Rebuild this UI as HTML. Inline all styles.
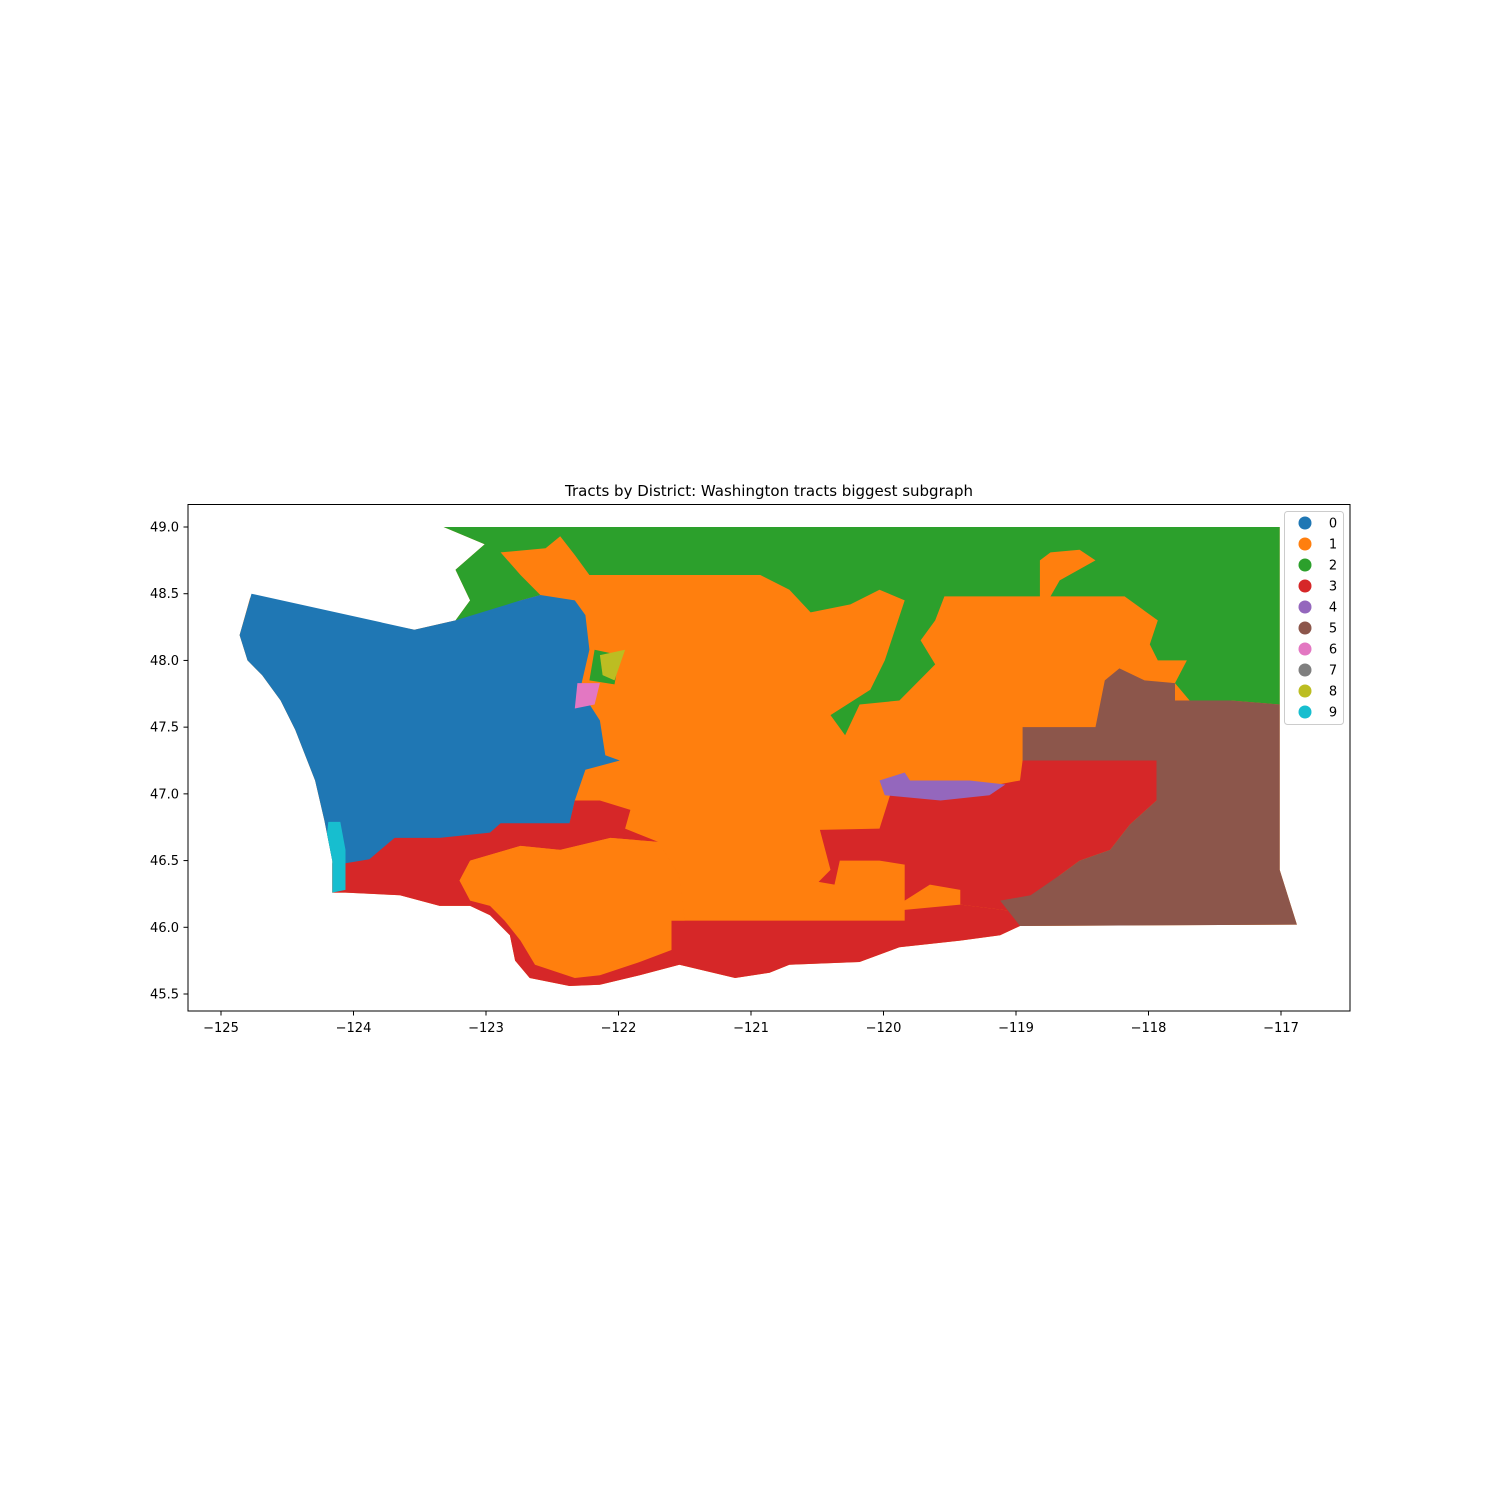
<!DOCTYPE html>
<html><head><meta charset="utf-8"><style>
html,body{margin:0;padding:0;background:#fff;}
svg{display:block;font-family:"DejaVu Sans","Liberation Sans",sans-serif;}
</style></head><body>
<svg id="chart" width="1500" height="1500" viewBox="0 0 1500 1500">
<rect x="0" y="0" width="1500" height="1500" fill="#fff"/>
<text x="769" y="496" text-anchor="middle" font-size="15" fill="#000">Tracts by District: Washington tracts biggest subgraph</text>
<g id="regions"></g>
<rect x="188" y="504.5" width="1162" height="506.5" fill="none" stroke="#000" stroke-width="1"/>
<g id="axes"></g>
<g id="legend"></g>
</svg>
<script>
const xTicks=[-125,-124,-123,-122,-121,-120,-119,-118,-117];
const yTicks=[45.5,46.0,46.5,47.0,47.5,48.0,48.5,49.0];
const legendLabels=["0","1","2","3","4","5","6","7","8","9"];
const colors=["#1f77b4","#ff7f0e","#2ca02c","#d62728","#9467bd","#8c564b","#e377c2","#7f7f7f","#bcbd22","#17becf"];
const stateOutline=[[-123.32,49.00],[-117.01,49.00],[-117.01,46.43],[-116.88,46.02],[-118.97,46.01],[-119.12,45.94],[-119.42,45.90],[-119.88,45.85],[-120.18,45.74],[-120.71,45.72],[-120.86,45.66],[-121.12,45.62],[-121.54,45.72],[-121.84,45.64],[-122.14,45.57],[-122.37,45.56],[-122.67,45.62],[-122.78,45.75],[-122.82,45.94],[-122.97,46.09],[-123.12,46.16],[-123.35,46.16],[-123.65,46.24],[-124.06,46.26],[-124.16,46.26],[-124.16,46.50],[-124.22,46.80],[-124.29,47.10],[-124.44,47.48],[-124.55,47.70],[-124.69,47.89],[-124.80,48.00],[-124.86,48.19],[-124.78,48.47],[-123.54,48.23],[-123.23,48.30],[-123.12,48.45],[-123.23,48.68],[-123.01,48.87]];
const district2=[[-123.32,49.00],[-117.01,49.00],[-117.01,47.67],[-117.38,47.70],[-117.80,47.70],[-117.80,47.43],[-117.69,47.48],[-117.69,47.70],[-117.80,47.83],[-117.71,48.00],[-117.93,48.00],[-117.99,48.12],[-117.93,48.30],[-118.18,48.48],[-118.74,48.48],[-118.67,48.60],[-118.40,48.75],[-118.52,48.83],[-118.74,48.81],[-118.82,48.75],[-118.82,48.48],[-119.54,48.48],[-119.61,48.30],[-119.72,48.15],[-119.61,47.97],[-119.88,47.70],[-120.18,47.67],[-120.29,47.44],[-120.40,47.59],[-120.10,47.78],[-119.99,48.00],[-119.84,48.45],[-120.03,48.53],[-120.25,48.42],[-120.55,48.36],[-120.71,48.53],[-120.93,48.64],[-122.22,48.64],[-122.33,48.79],[-122.44,48.93],[-122.55,48.84],[-122.89,48.81],[-122.74,48.64],[-122.59,48.49],[-122.74,48.45],[-123.12,48.30],[-123.23,48.30],[-123.12,48.45],[-123.23,48.68],[-123.01,48.87]];
const district2b=[[-122.18,48.08],[-121.99,48.04],[-122.03,47.82],[-122.22,47.85]];
const district0=[[-124.77,48.50],[-123.54,48.23],[-123.23,48.30],[-122.74,48.45],[-122.59,48.49],[-122.33,48.45],[-122.25,48.34],[-122.22,48.08],[-122.29,47.78],[-122.14,47.55],[-122.10,47.29],[-121.99,47.25],[-122.25,47.18],[-122.33,46.95],[-122.37,46.77],[-122.89,46.76],[-122.97,46.69],[-123.35,46.65],[-123.69,46.65],[-123.88,46.50],[-124.06,46.47],[-124.16,46.50],[-124.22,46.80],[-124.29,47.10],[-124.44,47.48],[-124.55,47.70],[-124.69,47.89],[-124.80,48.00],[-124.86,48.19]];
const district3a=[[-124.16,46.48],[-124.06,46.48],[-123.88,46.51],[-123.69,46.67],[-123.35,46.67],[-122.97,46.71],[-122.89,46.78],[-122.37,46.78],[-122.33,46.95],[-122.14,46.95],[-121.91,46.88],[-121.95,46.74],[-121.70,46.64],[-122.06,46.67],[-122.44,46.58],[-122.74,46.61],[-123.12,46.50],[-123.20,46.35],[-121.60,46.05],[-119.84,46.05],[-119.84,46.13],[-119.42,46.17],[-118.93,46.11],[-118.97,46.01],[-119.12,45.94],[-119.42,45.90],[-119.88,45.85],[-120.18,45.74],[-120.71,45.72],[-120.86,45.66],[-121.12,45.62],[-121.54,45.72],[-121.84,45.64],[-122.14,45.57],[-122.37,45.56],[-122.67,45.62],[-122.78,45.75],[-122.82,45.94],[-122.97,46.09],[-123.12,46.16],[-123.35,46.16],[-123.65,46.24],[-124.06,46.26],[-124.16,46.26]];
const district1sw=[[-123.20,46.35],[-123.12,46.50],[-122.74,46.61],[-122.44,46.58],[-122.06,46.67],[-121.70,46.64],[-121.54,46.39],[-121.50,46.05],[-121.60,46.05],[-121.60,45.83],[-121.84,45.74],[-122.14,45.64],[-122.33,45.62],[-122.63,45.72],[-122.74,45.90],[-122.86,46.05],[-122.97,46.16],[-123.12,46.20]];
const district3b=[[-120.48,46.73],[-120.03,46.74],[-119.95,46.99],[-119.57,46.99],[-118.97,47.10],[-118.95,47.25],[-117.94,47.25],[-117.94,46.95],[-118.14,46.77],[-118.29,46.58],[-118.52,46.50],[-118.67,46.39],[-118.89,46.20],[-118.93,46.11],[-119.42,46.17],[-119.42,46.28],[-119.65,46.32],[-119.84,46.20],[-119.84,46.47],[-120.03,46.50],[-120.33,46.50],[-120.37,46.32],[-120.49,46.34],[-120.40,46.43]];
const district5=[[-118.33,47.85],[-118.22,47.94],[-118.03,47.85],[-117.80,47.83],[-117.80,47.70],[-117.38,47.70],[-117.01,47.67],[-117.01,46.43],[-116.88,46.02],[-118.97,46.01],[-119.12,46.20],[-118.89,46.24],[-118.67,46.39],[-118.52,46.50],[-118.29,46.58],[-118.14,46.77],[-117.94,46.95],[-117.94,47.25],[-118.95,47.25],[-118.95,47.50],[-118.40,47.50]];
const district4=[[-120.03,47.10],[-119.84,47.16],[-119.80,47.10],[-119.35,47.10],[-119.08,47.07],[-119.20,46.99],[-119.57,46.95],[-119.99,46.99]];
const district9=[[-124.19,46.79],[-124.10,46.79],[-124.06,46.58],[-124.06,46.28],[-124.16,46.26],[-124.16,46.50],[-124.20,46.70]];
const district8=[[-122.14,48.04],[-121.95,48.08],[-122.03,47.85],[-122.12,47.89]];
const district6=[[-122.31,47.83],[-122.14,47.83],[-122.18,47.67],[-122.33,47.64]];

const NS="http://www.w3.org/2000/svg";
function xs(lon){return 221+(lon+125)*132.5;}
function ys(lat){return 527+(49-lat)*133.43;}
const reg=document.getElementById('regions');
function poly(pts,color,name){
  const p=document.createElementNS(NS,'polygon');
  p.setAttribute('points',pts.map(q=>xs(q[0]).toFixed(1)+','+ys(q[1]).toFixed(1)).join(' '));
  p.setAttribute('fill',color);
  
  
  reg.appendChild(p);
}
poly(stateOutline,colors[1],'district-1');
poly(district2,colors[2],'district-2');
poly(district2b,colors[2],'district-2-seattle');
poly(district0,colors[0],'district-0');
poly(district3a,colors[3],'district-3-south');
poly(district1sw,colors[1],'district-1-southwest');
poly(district3b,colors[3],'district-3-east');
poly(district5,colors[5],'district-5');
poly(district4,colors[4],'district-4');
poly(district9,colors[9],'district-9');
poly(district8,colors[8],'district-8');
poly(district6,colors[6],'district-6');

const ax=document.getElementById('axes');
xTicks.forEach(v=>{
  const x=xs(v);
  const l=document.createElementNS(NS,'line');
  l.setAttribute('x1',x);l.setAttribute('x2',x);l.setAttribute('y1',1011);l.setAttribute('y2',1015.5);
  l.setAttribute('stroke','#000');
  
  
  ax.appendChild(l);
  const t=document.createElementNS(NS,'text');
  t.setAttribute('x',x);t.setAttribute('y',1032);t.setAttribute('text-anchor','middle');t.setAttribute('font-size','13');
  t.textContent='\u2212'+Math.abs(v);
  
  
  ax.appendChild(t);
});
yTicks.forEach(v=>{
  const y=ys(v);
  const l=document.createElementNS(NS,'line');
  l.setAttribute('x1',183.5);l.setAttribute('x2',188);l.setAttribute('y1',y);l.setAttribute('y2',y);
  l.setAttribute('stroke','#000');
  
  
  ax.appendChild(l);
  const t=document.createElementNS(NS,'text');
  t.setAttribute('x',179);t.setAttribute('y',y+4.5);t.setAttribute('text-anchor','end');t.setAttribute('font-size','13');
  t.textContent=v.toFixed(1);
  
  
  ax.appendChild(t);
});

const lg=document.getElementById('legend');
const box=document.createElementNS(NS,'rect');
box.setAttribute('x',1284.5);box.setAttribute('y',511.5);box.setAttribute('width',59);box.setAttribute('height',213);
box.setAttribute('rx',3);box.setAttribute('fill','#fff');box.setAttribute('fill-opacity','0.8');box.setAttribute('stroke','#ccc');


lg.appendChild(box);
legendLabels.forEach((lab,i)=>{
  const y=523+i*21;
  const c=document.createElementNS(NS,'circle');
  c.setAttribute('cx',1305);c.setAttribute('cy',y);c.setAttribute('r',6.5);c.setAttribute('fill',colors[i]);
  
  
  lg.appendChild(c);
  const t=document.createElementNS(NS,'text');
  t.setAttribute('x',1333);t.setAttribute('y',y+4.5);t.setAttribute('text-anchor','middle');t.setAttribute('font-size','13');
  t.textContent=lab;
  
  
  lg.appendChild(t);
});
</script>
</body></html>
